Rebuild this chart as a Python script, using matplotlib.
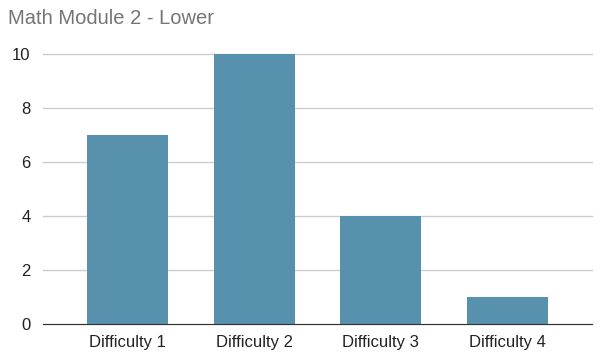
import matplotlib
matplotlib.use('Agg')
import matplotlib.pyplot as plt

plt.rcParams['font.family'] = ['Liberation Sans', 'DejaVu Sans']

# chart data
categories = ['Difficulty 1', 'Difficulty 2', 'Difficulty 3', 'Difficulty 4']
counts = [7, 10, 4, 1]
y_ticks = [0, 2, 4, 6, 8, 10]

fig = plt.figure(figsize=(6.11, 3.62), dpi=100)
ax = fig.add_axes([0.0704, 0.105, 0.8986, 0.746])

x = list(range(len(categories)))
ax.bar(x, counts, width=0.64, color='#5891ad', zorder=3)

ax.set_xlim(-0.668, 3.672)
ax.set_ylim(0, 10)
ax.set_yticks(y_ticks)
ax.set_xticks(x)
ax.set_xticklabels(categories)

ax.grid(axis='y', color='#cccccc', linewidth=1, zorder=0)
for gl in ax.get_ygridlines():
    gl.set_clip_on(False)

for side in ['top', 'right', 'left']:
    ax.spines[side].set_visible(False)
ax.spines['bottom'].set_color('#333333')
ax.spines['bottom'].set_zorder(4)

ax.tick_params(axis='both', length=0, labelsize=12, labelcolor='#222222')
ax.tick_params(axis='y', pad=9)
ax.tick_params(axis='x', pad=8)

fig.text(0.013, 0.948, 'Math Module 2 - Lower', fontsize=14.5, color='#757575',
         ha='left', va='center')

fig.savefig('out.png', dpi=100)
